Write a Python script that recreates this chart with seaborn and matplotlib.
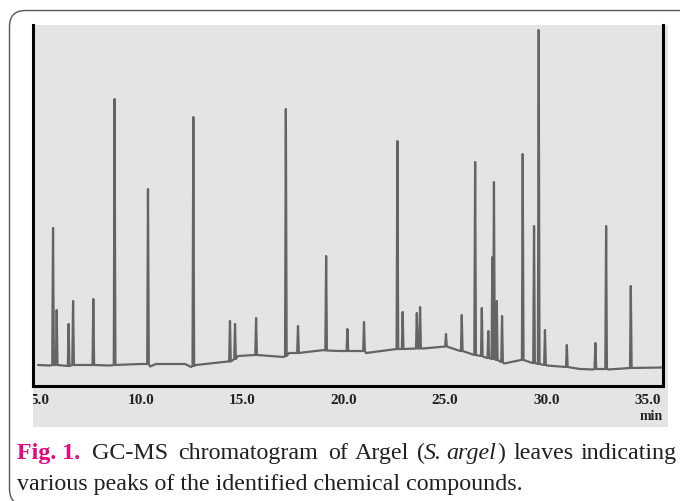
import numpy as np
import pandas as pd
import seaborn as sns
import matplotlib.pyplot as plt
from matplotlib.patches import FancyBboxPatch, Rectangle
from matplotlib.transforms import IdentityTransform, Bbox

sns.set_theme(style="white")
plt.rcParams['font.family'] = ['Liberation Serif', 'DejaVu Serif']

# peaks: retention time (min), apex signal, baseline level under the peak
peak_rt = [5.64, 5.82, 6.41, 6.63, 7.63, 8.68, 10.33, 12.57, 14.38, 14.63,
           15.67, 17.14, 17.74, 19.13, 20.18, 21.00, 22.65, 22.91, 23.61, 23.77,
           25.05, 25.83, 26.49, 26.82, 27.14, 27.34, 27.42, 27.56, 27.82, 28.84,
           29.40, 29.63, 29.94, 31.02, 32.43, 32.96, 34.18]
peak_height = [158, 76, 62, 85, 87, 287, 197, 269, 65, 62,
               68, 277, 60, 130, 57, 64, 245, 74, 73, 79,
               52, 71, 224, 78, 55, 129, 204, 85, 70, 232,
               160, 356, 56, 41, 43, 160, 100]
peak_base = [21, 21, 20, 21, 21, 21, 22, 20, 24.5, 27,
             31, 30, 33, 35.5, 35, 35, 37, 37, 37.5, 37.5,
             39.5, 35, 31, 30, 28, 27, 27, 26, 24, 26,
             23, 22, 21, 19, 17, 17, 18]

# baseline between the peaks
base_rt = [4.90, 5.49, 8.46, 9.94, 10.43, 10.73, 12.16, 12.46, 12.70, 14.28,
           14.78, 15.58, 17.05, 17.30, 19.03, 19.82, 21.10, 22.58, 23.92, 25.75,
           26.93, 27.92, 28.76, 29.32, 30.04, 31.67, 32.32, 33.06, 34.14, 35.72]
base_level = [21, 20.5, 20.5, 22, 19.5, 22, 22, 19, 21, 24.5,
              30, 31, 29, 33, 36, 35, 33, 37, 37.5, 35,
              29, 22.5, 26, 23, 20.5, 17, 16.5, 16.5, 18, 18.5]

tick_values = [5, 10, 15, 20, 25, 30, 35]
tick_labels = ["5.0", "10.0", "15.0", "20.0", "25.0", "30.0", "35.0"]

half_width = 0.04
rows = []
for t, h, b in zip(peak_rt, peak_height, peak_base):
    rows += [(t - half_width, b), (t, h), (t + half_width, b)]
rows += list(zip(base_rt, base_level))
trace = pd.DataFrame(rows, columns=["time", "signal"])

W, H = 680, 502
fig = plt.figure(figsize=(W / 100, H / 100), dpi=100)

# outer rounded frame and grey panel (pixel coordinates)
frame = FancyBboxPatch((9.5, -4), 690, 494.5, boxstyle="round,pad=0,rounding_size=16",
                       transform=IdentityTransform(), fc="white", ec="#555555", lw=1.0, zorder=-3)
fig.add_artist(frame)
panel = Rectangle((33, H - 428), 635, 402, transform=IdentityTransform(),
                  fc="#e4e4e4", ec="none", zorder=-2)
fig.add_artist(panel)

ax = fig.add_axes([33 / W, 1 - 387 / H, 630 / W, 361 / H])
ax.set_zorder(1)
ax.set_facecolor("#e4e4e4")

sns.lineplot(data=trace, x="time", y="signal", estimator=None, sort=True,
             color="#646464", lw=1.6, ax=ax)

ax.set_xlim(4.65, 35.77)
ax.set_ylim(0, 361)
ax.set_xticks(tick_values)
ax.set_xticklabels(tick_labels, fontweight="bold")
ax.set_yticks([])
ax.set_xlabel("")
ax.set_ylabel("")
ax.tick_params(axis="x", length=0, pad=5, labelsize=11, colors="#222222")
ax.spines["top"].set_visible(False)
for s in ["left", "right", "bottom"]:
    ax.spines[s].set_color("black")
    ax.spines[s].set_linewidth(2.2)

# the first label is cut by the panel edge
clip = Bbox.from_extents(33, H - 428, 668, H - 26)
for lbl in ax.get_xticklabels():
    lbl.set_clip_box(clip)
    lbl.set_clip_on(True)

fig.text(651 / W, 1 - 416 / H, "min", ha="center", va="center",
         fontsize=10, fontweight="bold", color="#222222")

# caption
cap = 17.3
ink = "#231f20"
base1 = 1 - 459 / H
base2 = 1 - 490 / H
fig.text(17 / W, base1, "Fig. 1.", fontsize=cap, fontweight="bold", color="#e4097f", va="baseline")
words = [("GC-MS", 92), ("chromatogram", 178), ("of", 328), ("Argel", 355),
         ("leaves", 514), ("indicating", 581)]
for w, x in words:
    fig.text(x / W, base1, w, fontsize=cap, color=ink, va="baseline")

renderer = fig.canvas.get_renderer()
x = 417
for piece, st, gap in [("(", "normal", -1), ("S.", "italic", 4), ("argel", "italic", 1), (")", "normal", 0)]:
    t = fig.text(x / W, base1, piece, fontsize=cap, style=st, color=ink, va="baseline")
    x = t.get_window_extent(renderer).x1 + gap

fig.text(17 / W, base2, "various peaks of the identified chemical compounds.",
         fontsize=cap, color=ink, va="baseline")

plt.savefig("out.png", dpi=100)
